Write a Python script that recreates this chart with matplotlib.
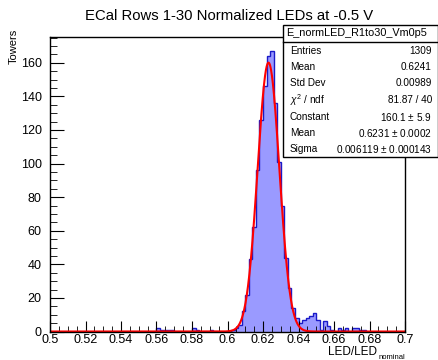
import numpy as np
import matplotlib
matplotlib.use('Agg')
from matplotlib import pyplot as plt
from matplotlib.ticker import MultipleLocator, FuncFormatter
from matplotlib.patches import Rectangle

plt.rcParams['font.family'] = ['Liberation Sans', 'DejaVu Sans']
plt.rcParams['mathtext.fontset'] = 'custom'
plt.rcParams['mathtext.rm'] = 'Liberation Sans'
plt.rcParams['mathtext.it'] = 'Liberation Sans:italic'

# histogram: 100 bins, 0.5 -> 0.7
x_min, x_max, n_bins = 0.5, 0.7, 100
# cuentas por bin (bin 0 empieza en 0.500)
counts = [0] * 30 + [2, 1, 1, 1, 1] + [0] * 5 + [2, 1] + [0] * 3 + [1] + [0] * 4 + [
    0, 1, 2, 4, 12, 22, 43, 62, 96, 126,
    146, 164, 167, 136, 101, 75, 44, 26, 14, 8,
    5, 7, 8, 9, 11, 7, 1, 6, 3, 1,
    0, 2, 1, 2, 0, 2, 2, 1, 1] + [0] * 11

# parametros del fit gaussiano
fit_const, fit_mean, fit_sigma = 160.1, 0.6231, 0.006119

stats_labels = ['Entries', 'Mean', 'Std Dev', r'$\chi^2$ / ndf', 'Constant', 'Mean', 'Sigma']
stats_values = ['1309', '0.6241', '0.00989', '81.87 / 40',
                '160.1 $\\pm$ 5.9', '0.6231 $\\pm$ 0.0002', '0.006119 $\\pm$ 0.000143']

W, H = 439, 360
fig = plt.figure(figsize=(W / 100, H / 100), dpi=100)
ax = fig.add_axes([50 / W, 1 - 331.5 / H, 355 / W, (331.5 - 37) / H])

edges = np.linspace(x_min, x_max, n_bins + 1)
ax.stairs(counts, edges, fill=True, color='#9a9aff', lw=0)
ax.stairs(counts, edges, color='#1a1ac8', lw=1)

xf = np.linspace(x_min, x_max, 2000)
ax.plot(xf, fit_const * np.exp(-0.5 * ((xf - fit_mean) / fit_sigma) ** 2), color='red', lw=1.5)

ax.set_xlim(x_min, x_max)
ax.set_ylim(0, 1.05 * max(counts))
ax.xaxis.set_major_locator(MultipleLocator(0.02))
ax.xaxis.set_minor_locator(MultipleLocator(0.005))
ax.yaxis.set_major_locator(MultipleLocator(20))
ax.yaxis.set_minor_locator(MultipleLocator(5))
ax.xaxis.set_major_formatter(FuncFormatter(lambda v, p: '%g' % round(v, 3)))
ax.tick_params(which='both', direction='in', top=False, right=False, labelsize=9, color='black')
ax.tick_params(axis='x', which='major', length=8, pad=2)
ax.tick_params(axis='x', which='minor', length=4)
ax.tick_params(axis='y', which='major', length=10, pad=6)
ax.tick_params(axis='y', which='minor', length=5)
for s in ax.spines.values():
    s.set_linewidth(1)

fig.text(229 / W, 1 - 16 / H, 'ECal Rows 1-30 Normalized LEDs at -0.5 V', ha='center', va='center', fontsize=10.7)
fig.text(14 / W, 1 - 29 / H, 'Towers', rotation=90, ha='center', va='top', fontsize=8)
fig.text(377 / W, 1 - 352 / H, 'LED/LED', ha='right', va='center', fontsize=8.5)
fig.text(405 / W, 1 - 357.5 / H, 'nominal', ha='right', va='center', fontsize=5.5)

# caja de estadisticas
box = Rectangle((283 / W, 1 - 157 / H), 155 / W, 132 / H, transform=fig.transFigure,
                facecolor='white', edgecolor='black', lw=1, zorder=5)
fig.add_artist(box)
fig.add_artist(plt.Line2D([283 / W, 438 / W], [1 - 41.7 / H] * 2, transform=fig.transFigure,
                          color='black', lw=1, zorder=6))
fig.text(286 / W, 1 - 33 / H, 'E_normLED_R1to30_Vm0p5', ha='left', va='center', fontsize=7.8, zorder=7)
row_y = [50.7, 67, 83.3, 100, 117.3, 133.3, 149.3]
for lab, val, y in zip(stats_labels, stats_values, row_y):
    fig.text(290 / W, 1 - y / H, lab, ha='left', va='center', fontsize=7.2, zorder=7)
    fig.text(432 / W, 1 - y / H, val, ha='right', va='center', fontsize=7.2, zorder=7)

fig.savefig('out.png', dpi=100)
